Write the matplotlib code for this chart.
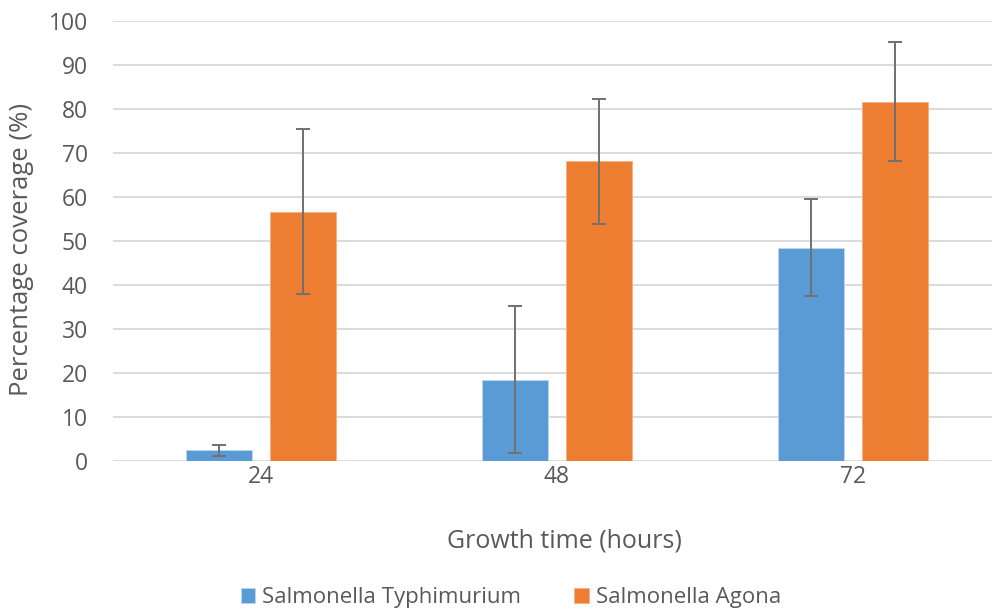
import numpy as np
import matplotlib.pyplot as plt

plt.rcParams['font.family'] = ['Open Sans', 'DejaVu Sans']

hours = ['24', '48', '72']
typhimurium = [2.3, 18.4, 48.4]
typhimurium_err = [1.2, 16.8, 11.1]
agona = [56.6, 68.0, 81.6]
agona_err = [18.7, 14.2, 13.6]

blue = '#5B9BD5'
orange = '#ED7D31'
grey = '#595959'

fig = plt.figure(figsize=(9.92, 6.12), dpi=100)
ax = fig.add_axes([113 / 992, 1 - 460.5 / 612, 1 - 113 / 992, (460.5 - 20.7) / 612])

x = np.arange(len(hours))
w = 0.223
off = (w + 0.063) / 2
err_kw = dict(ecolor='#707070', elinewidth=1.4, capsize=5, capthick=1.4)
ax.bar(x - off, typhimurium, w, yerr=typhimurium_err, color=blue,
       edgecolor='#BDD7EE', linewidth=0.6, error_kw=err_kw,
       label='Salmonella Typhimurium', zorder=2)
ax.bar(x + off, agona, w, yerr=agona_err, color=orange,
       edgecolor='#F4B183', linewidth=0.6, error_kw=err_kw,
       label='Salmonella Agona', zorder=2)

ax.set_xlim(-0.5, -0.5 + 879 / 296)
ax.set_ylim(0, 100)
ax.set_yticks(range(0, 101, 10))
ax.set_xticks(x)
ax.set_xticklabels(hours)
ax.yaxis.grid(True, color='#D9D9D9', linewidth=1.3, zorder=0)
ax.set_axisbelow(True)
for s in ax.spines.values():
    s.set_visible(False)
ax.tick_params(length=0, labelsize=16.5, labelcolor=grey)
ax.tick_params(axis='y', pad=18)
ax.tick_params(axis='x', pad=3)

ax.set_xlabel('Growth time (hours)', fontsize=18, color=grey, va='center')
ax.xaxis.set_label_coords(0.514, -80.5 / 439.8)
ax.set_ylabel('Percentage coverage (%)', fontsize=18.5, color=grey, va='center')
ax.yaxis.set_label_coords(-91 / 879, 0.479)

ax.legend(loc='center', bbox_to_anchor=(0.515, 0.023), bbox_transform=fig.transFigure,
          ncol=2, frameon=False, fontsize=16, labelcolor=grey,
          handlelength=0.65, handleheight=0.65, handletextpad=0.3, columnspacing=2.4)

fig.savefig('out.png', dpi=100)
